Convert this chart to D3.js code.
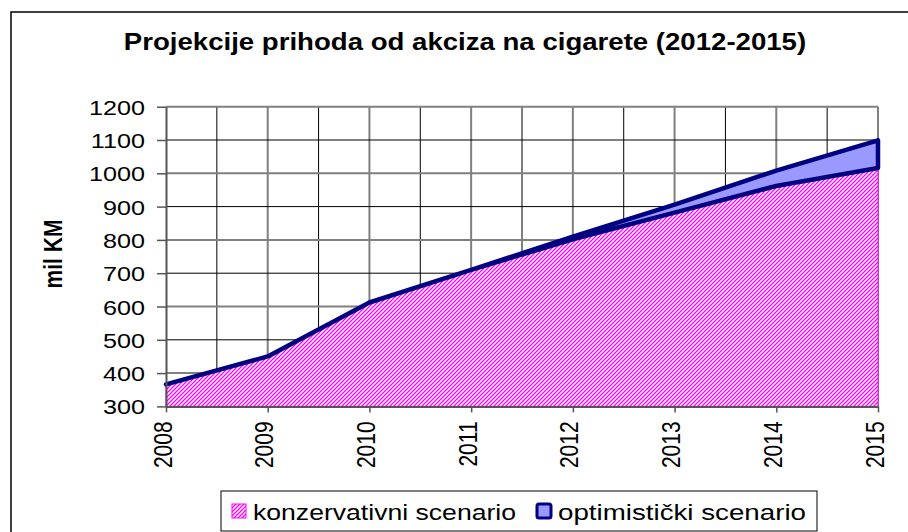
<!DOCTYPE html>
<html>
<head>
<meta charset="utf-8">
<script src="https://cdn.jsdelivr.net/npm/d3@7"></script>
<style>
    body { margin: 0; background: #fff; }
    text { font-family: "Liberation Sans", Arial, sans-serif; }
</style>
</head>
<body>
<svg id="chart" width="908" height="532"></svg>
<script>
/***************************************************************
    Data
****************************************************************/
const years = [2008, 2009, 2010, 2011, 2012, 2013, 2014, 2015];
const konzervativni = [366, 450, 612, 710, 802, 882, 962, 1016];
const optimisticki = [366, 450, 612, 710, 810, 906, 1008, 1099];
const yTicks = [300, 400, 500, 600, 700, 800, 900, 1000, 1100, 1200];
const seriesNames = ["konzervativni scenario", "optimistički scenario"];
const chartTitle = "Projekcije prihoda od akciza na cigarete (2012-2015)";
const yTitle = "mil KM";

// the picture is stretched a bit horizontally, so is the text
const stretch = "scale(1.2,1)";

/***************************************************************
    Setup
****************************************************************/
const svg = d3.select("#chart");

const x = d3.scaleLinear().domain([2008, 2015]).range([166, 878]);
const y = d3.scaleLinear().domain([300, 1200]).range([406.4, 106.7]);

const defs = svg.append("defs");
const hatch = defs.append("pattern")
    .attr("id", "hatch")
    .attr("patternUnits", "userSpaceOnUse")
    .attr("width", 4).attr("height", 4);
hatch.append("rect").attr("width", 4).attr("height", 4).attr("fill", "#fff");
hatch.append("path")
    .attr("d", "M-1,1 l2,-2 M0,4 l4,-4 M3,5 l2,-2")
    .attr("stroke", "#ff00ff").attr("stroke-width", 1.3);

// outer chart border
svg.append("rect")
    .attr("x", 11).attr("y", 12).attr("width", 910).attr("height", 540)
    .attr("fill", "none").attr("stroke", "#000").attr("stroke-width", 1.5);

/***************************************************************
    Grid
****************************************************************/
const halfYears = d3.range(2008.5, 2015.01, 0.5);
svg.append("g").selectAll("line").data(halfYears).enter().append("line")
    .attr("x1", d => x(d)).attr("x2", d => x(d))
    .attr("y1", y(1200)).attr("y2", y(300))
    .attr("stroke", d => d % 1 === 0 ? "#808080" : "#000")
    .attr("stroke-width", d => d % 1 === 0 ? 2 : 1);

svg.append("g").selectAll("line").data(yTicks.slice(1)).enter().append("line")
    .attr("x1", x(2008)).attr("x2", x(2015))
    .attr("y1", d => y(d)).attr("y2", d => y(d))
    .attr("stroke", d => (d / 100) % 2 === 0 ? "#808080" : "#000")
    .attr("stroke-width", d => (d / 100) % 2 === 0 ? 2 : 1);

/***************************************************************
    Areas
****************************************************************/
const rows = years.map((yr, i) => ({ yr: yr, k: konzervativni[i], o: optimisticki[i] }));

const areaK = d3.area().x(d => x(d.yr)).y0(y(300)).y1(d => y(d.k));
svg.append("path").datum(rows)
    .attr("d", areaK)
    .attr("fill", "url(#hatch)")
    .attr("stroke", "#ff00ff").attr("stroke-width", 1);

const areaO = d3.area().x(d => x(d.yr)).y0(d => y(d.k)).y1(d => y(d.o));
svg.append("path").datum(rows)
    .attr("d", areaO)
    .attr("fill", "#9999ff")
    .attr("stroke", "#000080").attr("stroke-width", 4.5)
    .attr("stroke-linejoin", "round");

/***************************************************************
    Axes
****************************************************************/
const yAxis = svg.append("g").attr("transform", `translate(${x(2008)},0)`)
    .call(d3.axisLeft(y).tickValues(yTicks).tickFormat(d3.format("d")).tickSize(9).tickSizeOuter(0));
const xAxis = svg.append("g").attr("transform", `translate(0,${y(300)})`)
    .call(d3.axisBottom(x).tickValues(years).tickFormat(d3.format("d")).tickSize(6).tickSizeOuter(0));

[yAxis, xAxis].forEach(a => {
    a.select(".domain").attr("stroke", "#555").attr("stroke-width", 2);
    a.selectAll(".tick line").attr("stroke", "#555").attr("stroke-width", 1.5);
    a.selectAll(".tick text").attr("fill", "#000").attr("font-size", 21)
        .attr("font-family", "Liberation Sans, Arial, sans-serif");
});

yAxis.selectAll(".tick text")
    .attr("x", 0).attr("dy", "0.36em")
    .attr("transform", `translate(-21,0) ${stretch}`);

xAxis.selectAll(".tick text")
    .attr("x", 0).attr("y", 0).attr("dy", "0.2em")
    .attr("text-anchor", "end")
    .attr("transform", `translate(0,15) ${stretch} rotate(-90)`);

/***************************************************************
    Titles
****************************************************************/
svg.append("text")
    .attr("transform", `translate(465,50) ${stretch}`)
    .attr("text-anchor", "middle")
    .attr("font-size", 23).attr("font-weight", "bold")
    .text(chartTitle);

svg.append("text")
    .attr("transform", `translate(53,254) ${stretch} rotate(-90)`)
    .attr("text-anchor", "middle").attr("dy", "0.36em")
    .attr("font-size", 21).attr("font-weight", "bold")
    .text(yTitle);

/***************************************************************
    Legend
****************************************************************/
const legend = svg.append("g");
legend.append("rect")
    .attr("x", 221).attr("y", 491).attr("width", 596).attr("height", 40)
    .attr("fill", "#fff").attr("stroke", "#000").attr("stroke-width", 1);

const legendItems = [
    { name: seriesNames[0], sx: 232, tw: 263, fill: "url(#hatch)", stroke: "#ff00ff", sw: 1 },
    { name: seriesNames[1], sx: 537, tw: 248, fill: "#9999ff", stroke: "#000080", sw: 3 }
];
const li = legend.selectAll("g.item").data(legendItems).enter().append("g").attr("class", "item");
li.append("rect")
    .attr("x", d => d.sx).attr("y", 504).attr("width", 14).attr("height", 14)
    .attr("fill", d => d.fill).attr("stroke", d => d.stroke).attr("stroke-width", d => d.sw)
    .attr("rx", d => d.sw > 1 ? 2 : 0);
li.append("text")
    .attr("transform", d => `translate(${d.sx + 21},520) ${stretch}`)
    .attr("font-size", 22.5)
    .attr("textLength", d => d.tw / 1.2)
    .attr("lengthAdjust", "spacingAndGlyphs")
    .text(d => d.name);
</script>
</body>
</html>
